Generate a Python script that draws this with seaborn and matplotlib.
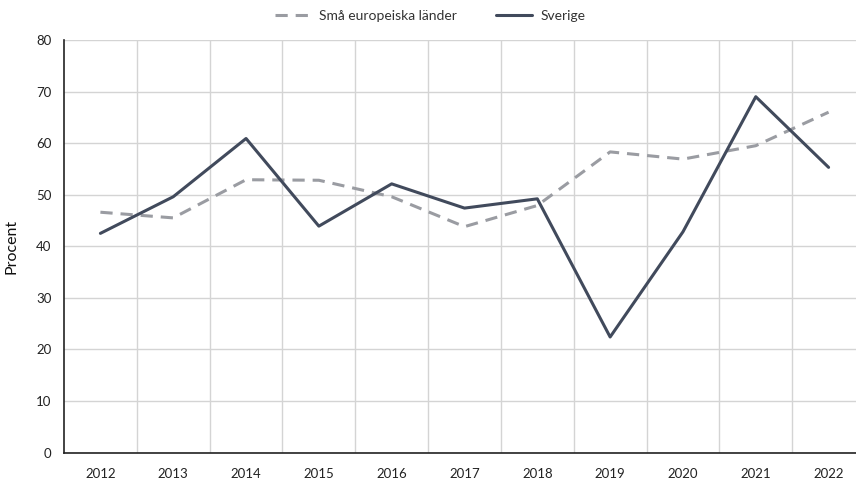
import matplotlib
matplotlib.use("Agg")
import matplotlib.pyplot as plt
import numpy as np
import pandas as pd
import seaborn as sns

years = ["2012", "2013", "2014", "2015", "2016", "2017", "2018", "2019", "2020", "2021", "2022"]
sma_lander = [46.6, 45.5, 52.9, 52.8, 49.6, 43.8, 47.9, 58.3, 56.9, 59.5, 66.0]
sverige = [42.5, 49.6, 60.9, 43.9, 52.1, 47.4, 49.2, 22.4, 42.8, 69.0, 55.3]
y_ticks = [0, 10, 20, 30, 40, 50, 60, 70, 80]

df = pd.DataFrame({
    "year": years * 2,
    "value": sma_lander + sverige,
    "series": ["Små europeiska länder"] * len(years) + ["Sverige"] * len(years),
})
df["pos"] = list(range(len(years))) * 2

sns.set_theme(style="white")
plt.rcParams["font.family"] = ["Lato", "DejaVu Sans"]

fig = plt.figure(figsize=(8.56, 4.8), dpi=100)
# axes extends a little past the right edge, like the original
ax = fig.add_axes([64 / 856, 1 - 452.5 / 480, (865 - 64) / 856, (452.5 - 40) / 480])

palette = {"Små europeiska länder": "#9a9ca2", "Sverige": "#414a5c"}
sns.lineplot(data=df, x="pos", y="value", hue="series", style="series",
             palette=palette,
             dashes={"Små europeiska länder": (4, 2.6), "Sverige": ""},
             linewidth=2.2, ax=ax, legend=False)

ax.set_xlim(-0.5, 10.5)
ax.set_ylim(0, 80)
ax.set_yticks(y_ticks)
ax.set_xticks(range(len(years)))
ax.set_xticklabels(years)
ax.set_xticks(np.arange(0.5, len(years) - 0.5, 1), minor=True)

ax.grid(False)
ax.grid(True, which="minor", axis="x", color="#d4d4d4", linewidth=1)
ax.grid(True, which="major", axis="y", color="#d4d4d4", linewidth=1)
ax.set_axisbelow(True)

for s in ["top", "right"]:
    ax.spines[s].set_visible(False)
ax.spines["left"].set_color("#222222")
ax.spines["bottom"].set_color("#222222")
ax.spines["left"].set_linewidth(1.2)
ax.spines["bottom"].set_linewidth(1.2)

ax.tick_params(axis="both", which="both", length=0, labelsize=9.5, colors="#222222")
ax.tick_params(axis="y", pad=9)
ax.tick_params(axis="x", pad=11)
ax.set_xlabel("")
ax.set_ylabel("Procent", fontsize=11.5, color="#111111", labelpad=13)

handles = [
    plt.Line2D([], [], color=palette["Små europeiska länder"], linewidth=2.2, dashes=(4, 2.6)),
    plt.Line2D([], [], color=palette["Sverige"], linewidth=2.2),
]
leg = fig.legend(handles, ["Små europeiska länder", "Sverige"], loc="center",
                 bbox_to_anchor=(430 / 856, 1 - 16 / 480), ncol=2, frameon=False,
                 fontsize=10, handlelength=2.6, columnspacing=2.8, handletextpad=0.6)
for t in leg.get_texts():
    t.set_color("#333333")

fig.savefig("out.png", dpi=100)
